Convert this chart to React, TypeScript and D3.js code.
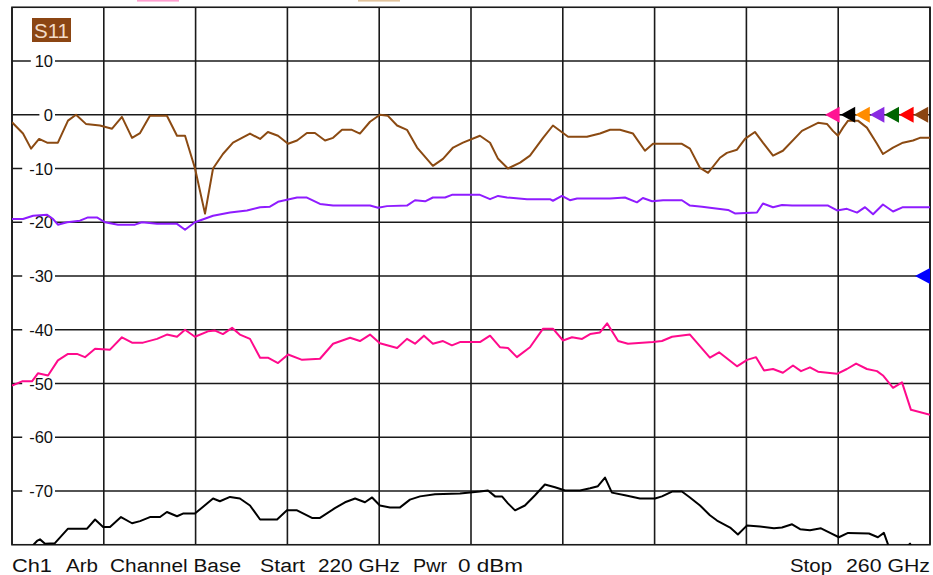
import React from "react";
import * as d3 from "d3";

const W = 933;
const H = 575;

const yTicks = [10, 0, -10, -20, -30, -40, -50, -60, -70];
const xTicks = [220, 224, 228, 232, 236, 240, 244, 248, 252, 256, 260];

const brownPts: [number, number][] = [
  [220.0, -1.4], [220.48, -3.5], [220.83, -6.3], [221.18, -4.5], [221.53, -5.2], [222.0, -5.2], [222.44, -1.1], [222.79, 0], [223.22, -1.7], [223.83, -2.0], [224.36, -2.6], [224.79, -0.4], [225.23, -4.3], [225.58, -3.4], [226.01, -0.2], [226.75, -0.2], [227.19, -3.9], [227.54, -3.9], [227.97, -9.9], [228.41, -18.4], [228.76, -10.0], [229.19, -7.3], [229.63, -5.2], [230.37, -3.5], [230.81, -4.5], [231.15, -3.2], [231.59, -3.9], [232.03, -5.4], [232.42, -4.8], [232.85, -3.4], [233.2, -3.4], [233.64, -4.8], [233.99, -4.3], [234.38, -2.8], [234.81, -2.8], [235.16, -3.5], [235.6, -1.3], [236.03, 0], [236.38, -0.2], [236.78, -2.0], [237.21, -2.8], [237.65, -6.1], [238.34, -9.5], [238.78, -8.2], [239.22, -6.1], [239.65, -5.2], [240.39, -3.9], [240.83, -5.2], [241.18, -8.2], [241.61, -10.0], [242.14, -8.9], [242.57, -7.6], [243.14, -4.3], [243.57, -2.0], [244.01, -3.4], [244.23, -4.1], [245.05, -4.1], [245.62, -3.5], [246.06, -2.8], [246.49, -2.8], [247.06, -3.5], [247.58, -6.7], [247.93, -5.4], [249.19, -5.4], [249.54, -6.3], [249.98, -9.9], [250.33, -10.8], [250.85, -8.0], [251.15, -7.1], [251.59, -6.5], [251.94, -4.5], [252.37, -3.2], [252.72, -5.2], [253.16, -7.6], [253.59, -6.7], [254.42, -3.0], [255.12, -1.5], [255.51, -1.7], [255.77, -3.0], [255.99, -3.9], [256.21, -2.4], [256.43, -1.1], [256.86, -1.1], [257.25, -2.4], [257.69, -5.4], [257.95, -7.3], [258.39, -6.1], [258.82, -5.2], [259.26, -4.8], [259.56, -4.3], [260, -4.3],
];

const purplePts: [number, number][] = [
  [220, -19.4], [220.48, -19.4], [220.92, -18.8], [221.53, -18.6], [221.79, -19.4], [222.0, -20.45], [222.4, -20.0], [222.96, -19.7], [223.31, -19.1], [223.7, -19.1], [224.05, -20.0], [224.62, -20.45], [225.36, -20.45], [225.66, -20.0], [226.32, -20.3], [227.19, -20.3], [227.54, -21.4], [227.97, -20.0], [228.76, -18.8], [229.5, -18.2], [230.24, -17.8], [230.81, -17.2], [231.24, -17.1], [231.59, -16.2], [232.42, -15.4], [232.85, -15.4], [233.42, -16.6], [233.99, -16.9], [235.6, -16.9], [235.95, -17.3], [236.34, -17.0], [237.21, -16.9], [237.56, -15.9], [238.0, -16.1], [238.34, -15.4], [238.87, -15.4], [239.17, -14.9], [240.39, -14.9], [240.83, -15.7], [241.18, -15.1], [241.57, -15.4], [242.44, -15.7], [243.44, -15.7], [243.57, -16.0], [243.96, -15.1], [244.31, -15.9], [244.62, -15.6], [246.06, -15.6], [246.71, -15.4], [247.23, -16.3], [247.49, -15.5], [247.89, -16.1], [248.37, -15.9], [249.19, -15.9], [249.54, -16.9], [250.07, -17.1], [250.41, -17.3], [251.2, -17.7], [251.5, -18.35], [252.46, -18.2], [252.72, -16.5], [253.16, -17.2], [253.55, -16.8], [253.99, -16.9], [255.56, -16.9], [255.95, -17.8], [256.38, -17.5], [256.82, -18.2], [257.17, -17.2], [257.52, -18.5], [257.95, -16.7], [258.39, -18.0], [258.82, -17.2], [260, -17.2],
];

const pinkPts: [number, number][] = [
  [220, -50.4], [220.44, -49.6], [220.87, -49.6], [221.13, -48.1], [221.57, -48.5], [222.0, -45.7], [222.44, -44.5], [222.83, -44.5], [223.18, -45.1], [223.62, -43.55], [224.27, -43.7], [224.79, -41.4], [225.23, -42.4], [225.71, -42.4], [226.32, -41.7], [226.75, -40.9], [227.19, -41.3], [227.54, -40.0], [227.97, -41.3], [228.54, -40.3], [228.85, -40.15], [229.19, -40.8], [229.59, -39.65], [229.93, -40.9], [230.37, -41.7], [230.81, -45.2], [231.15, -45.2], [231.59, -46.2], [232.03, -44.6], [232.64, -45.6], [233.42, -45.4], [233.99, -42.6], [234.73, -41.5], [235.16, -42.1], [235.6, -40.9], [236.03, -42.5], [236.78, -43.4], [237.21, -41.7], [237.56, -42.6], [237.95, -41.1], [238.34, -42.6], [238.78, -42.1], [239.17, -42.9], [239.52, -42.3], [240.39, -42.3], [240.83, -41.1], [241.26, -43.25], [241.61, -43.4], [242.0, -45.1], [242.57, -43.25], [243.14, -39.8], [243.57, -39.8], [244.01, -42.0], [244.4, -41.4], [244.84, -41.7], [245.19, -40.8], [245.62, -40.5], [245.93, -38.8], [246.41, -42.1], [246.84, -42.6], [247.93, -42.3], [248.32, -42.1], [248.76, -41.3], [249.54, -40.9], [250.41, -45.2], [250.81, -44.2], [251.59, -46.8], [252.03, -45.6], [252.42, -45.1], [252.77, -47.6], [253.16, -47.3], [253.59, -48.0], [254.03, -46.65], [254.38, -47.7], [254.77, -47.0], [255.12, -47.8], [255.95, -48.2], [256.38, -47.3], [256.78, -46.3], [257.25, -47.3], [257.69, -47.7], [257.95, -48.5], [258.39, -50.8], [258.78, -49.8], [259.17, -54.9], [260, -55.8],
];

const blackPts: [number, number][] = [
  [220, -81.0], [220.78, -80.7], [221.09, -79.3], [221.22, -79.0], [221.44, -79.8], [221.87, -79.7], [222.44, -77.0], [223.27, -77.0], [223.62, -75.3], [223.97, -76.7], [224.27, -76.7], [224.75, -74.85], [225.23, -76.0], [225.58, -75.6], [226.01, -74.85], [226.45, -74.85], [226.75, -73.9], [227.19, -74.7], [227.45, -74.2], [227.97, -74.2], [228.76, -71.4], [229.06, -71.9], [229.5, -71.1], [229.93, -71.4], [230.37, -72.7], [230.81, -75.3], [231.55, -75.3], [231.98, -73.6], [232.42, -73.6], [233.07, -75.0], [233.42, -75.0], [234.07, -73.2], [234.51, -72.1], [234.95, -71.4], [235.38, -72.1], [235.69, -71.2], [236.03, -72.7], [236.47, -73.05], [236.91, -73.05], [237.34, -71.6], [237.78, -71.0], [238.43, -70.6], [239.52, -70.45], [240.39, -70.1], [240.74, -69.9], [241.05, -71.0], [241.35, -71.0], [241.61, -72.3], [241.92, -73.6], [242.35, -72.7], [242.79, -70.8], [243.22, -68.8], [243.66, -69.3], [244.1, -69.9], [244.75, -69.9], [245.19, -69.5], [245.53, -69.1], [245.84, -67.5], [246.14, -70.3], [246.71, -70.8], [247.36, -71.4], [248.02, -71.4], [248.32, -71.0], [248.76, -70.1], [249.19, -70.1], [249.54, -71.2], [249.98, -72.7], [250.41, -74.5], [250.72, -75.5], [251.29, -76.8], [251.63, -78.1], [252.03, -76.4], [252.59, -76.6], [253.2, -76.95], [253.55, -76.8], [253.99, -76.2], [254.34, -77.1], [254.77, -77.3], [255.25, -76.95], [255.69, -77.9], [256.03, -78.6], [256.43, -77.8], [257.34, -77.9], [257.73, -78.6], [257.99, -77.8], [258.26, -81.0], [258.91, -80.7], [259.13, -79.8], [259.35, -81.4], [260, -81.4],
];

const markerColors = ["#ff1493", "#000000", "#ff8c00", "#8a2be2", "#006400", "#ff0000", "#8b4513"];

const FONT = "'Liberation Sans', Arial, sans-serif";

export default function App() {
  const left = 12, right = 930, top = 7.25, bottom = 544.75;
  const x = d3.scaleLinear().domain([220, 260]).range([left, right]);
  const y = d3.scaleLinear().domain([-80, 20]).range([bottom, top]);
  const line = d3
    .line<[number, number]>()
    .x((d) => x(d[0]))
    .y((d) => y(d[1]));

  const traces = [
    { pts: blackPts, color: "#000000" },
    { pts: pinkPts, color: "#ff0a8c" },
    { pts: purplePts, color: "#8f1cff" },
    { pts: brownPts, color: "#8b4a12" },
  ];

  const y0 = y(0);
  const mW = 14.6;
  const mH = 8;
  const markers = markerColors.map((c, i) => {
    const tip = right - 105 + i * mW * 1.0 + (i > 0 ? 1 : 0);
    return { c, tip };
  });

  return (
    <svg
      width={W}
      height={H}
      style={{ position: "absolute", left: 0, top: 0, background: "#fff" }}
    >
      <defs>
        <clipPath id="plot">
          <rect x={left} y={top} width={right - left} height={bottom - top} />
        </clipPath>
      </defs>
      <rect x={0} y={0} width={W} height={H} fill="#fff" />
      {/* top legend chips */}
      <rect x={137} y={0} width={42} height={1.6} fill="#ff9fd0" />
      <rect x={358} y={0} width={42} height={1.6} fill="#e2c39c" />

      {/* grid */}
      {xTicks.map((t) => (
        <line key={"vx" + t} x1={x(t)} x2={x(t)} y1={top} y2={bottom} stroke="#1a1a1a" strokeWidth={1.6} />
      ))}
      {yTicks.map((t) => (
        <line key={"hy" + t} x1={left} x2={right} y1={y(t)} y2={y(t)} stroke="#1a1a1a" strokeWidth={1.6} />
      ))}
      <rect x={left} y={top} width={right - left} height={bottom - top} fill="none" stroke="#1a1a1a" strokeWidth={1.6} />

      {/* y labels */}
      {yTicks.map((t) => {
        const label = String(t);
        const w = label.length * 8.6 + 3;
        return (
          <g key={"yl" + t}>
            <rect x={53 - w - 2} y={y(t) - 3} width={w + 4} height={6} fill="#fff" />
            <text
              x={53}
              y={y(t) + 6}
              textAnchor="end"
              fontFamily={FONT}
              fontSize={16.5}
              fill="#111"
            >
              {label}
            </text>
          </g>
        );
      })}

      {/* traces */}
      <g clipPath="url(#plot)">
        {traces.map((tr, i) => (
          <path key={i} d={line(tr.pts) || ""} fill="none" stroke={tr.color} strokeWidth={2} strokeLinejoin="round" />
        ))}
      </g>

      {/* S11 label */}
      <rect x={32} y={18} width={39} height={24} fill="#8b4513" />
      <text x={34} y={38} fontFamily={FONT} fontSize={21} fill="#f3dcc8" textLength={35} lengthAdjust="spacingAndGlyphs">
        S11
      </text>

      {/* markers */}
      <line x1={markers[0].tip} x2={right - 15} y1={y0} y2={y0} stroke="#000" strokeWidth={1.2} strokeDasharray="4 3" />
      {markers.map((m, i) => (
        <path
          key={"mk" + i}
          d={`M${m.tip},${y0} L${m.tip + mW},${y0 - mH} L${m.tip + mW},${y0 + mH} Z`}
          fill={m.c}
        />
      ))}
      <path
        d={`M${right - 15},${y(-30)} L${right},${y(-30) - 8} L${right},${y(-30) + 8} Z`}
        fill="#0000ff"
      />

      {/* bottom text */}
      <g fontFamily={FONT} fontSize={18} fill="#111">
        <text x={12} y={572} textLength={40} lengthAdjust="spacingAndGlyphs">Ch1</text>
        <text x={66} y={572} textLength={32} lengthAdjust="spacingAndGlyphs">Arb</text>
        <text x={110} y={572} textLength={131} lengthAdjust="spacingAndGlyphs">Channel Base</text>
        <text x={260} y={572} textLength={45} lengthAdjust="spacingAndGlyphs">Start</text>
        <text x={318} y={572} textLength={82} lengthAdjust="spacingAndGlyphs">220 GHz</text>
        <text x={413} y={572} textLength={34} lengthAdjust="spacingAndGlyphs">Pwr</text>
        <text x={458} y={572} textLength={65} lengthAdjust="spacingAndGlyphs">0 dBm</text>
        <text x={790} y={572} textLength={42} lengthAdjust="spacingAndGlyphs">Stop</text>
        <text x={846} y={572} textLength={84} lengthAdjust="spacingAndGlyphs">260 GHz</text>
      </g>
    </svg>
  );
}
